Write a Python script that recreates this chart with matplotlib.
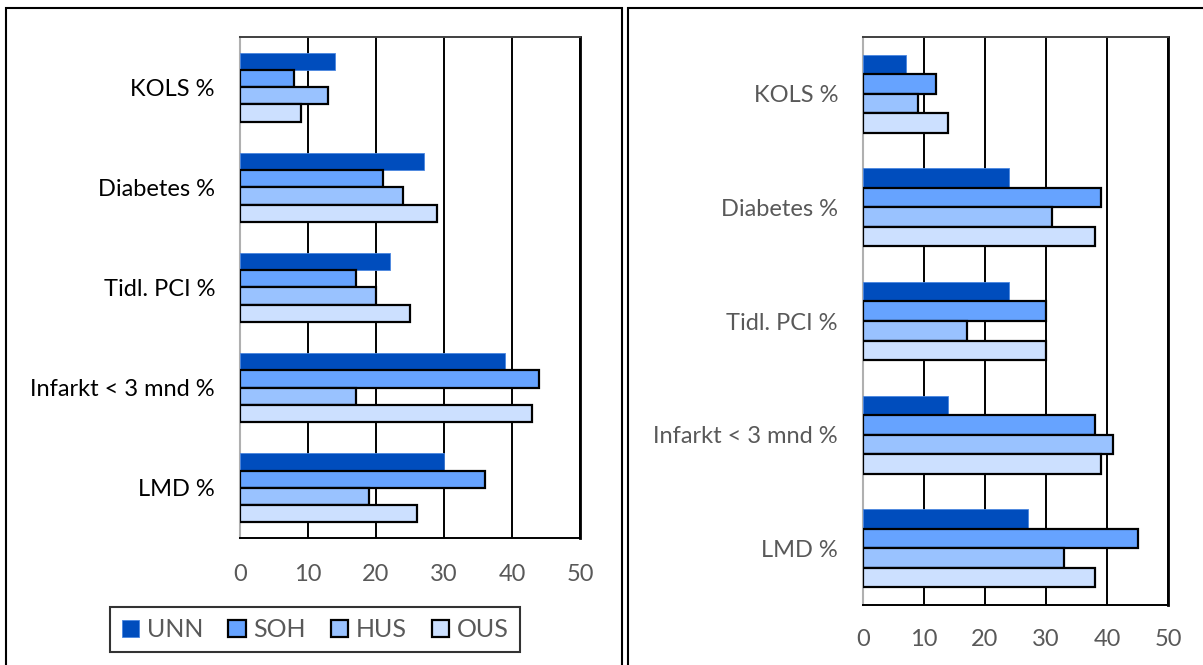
import numpy as np
import matplotlib.pyplot as plt
from matplotlib.patches import Rectangle

categories = ["KOLS %", "Diabetes %", "Tidl. PCI %", "Infarkt < 3 mnd %", "LMD %"]
hospitals = ["UNN", "SOH", "HUS", "OUS"]

left_vals = {
    "UNN": [14, 27, 22, 39, 30],
    "SOH": [8, 21, 17, 44, 36],
    "HUS": [13, 24, 20, 17, 19],
    "OUS": [9, 29, 25, 43, 26],
}
right_vals = {
    "UNN": [7, 24, 24, 14, 27],
    "SOH": [12, 39, 30, 38, 45],
    "HUS": [9, 31, 17, 41, 33],
    "OUS": [14, 38, 30, 39, 38],
}
xticks = [0, 10, 20, 30, 40, 50]

colors = ["#004DBD", "#66A3FF", "#99C2FF", "#CCE0FF"]
edges = ["#4a86e0", "black", "black", "black"]

plt.rcParams['font.family'] = ['Lato', 'DejaVu Sans']

W, H = 1203, 665
fig = plt.figure(figsize=(W / 100, H / 100), dpi=100)


def fx(px):
    return px / W


def fy(py):
    return 1 - py / H


# panel frames
for x0, x1 in [(6, 622), (628, 1210)]:
    fig.patches.append(Rectangle((fx(x0), fy(700)), fx(x1) - fx(x0), fy(8) - fy(700),
                                 transform=fig.transFigure, fill=False,
                                 edgecolor='black', linewidth=1.5))


def panel(rect, data, label_color, tick_pad):
    ax = fig.add_axes(rect)
    y = np.arange(len(categories))
    bh = 0.172
    for i, h in enumerate(hospitals):
        pos = y - 1.5 * bh + i * bh
        ax.barh(pos, data[h], height=bh, color=colors[i], edgecolor=edges[i],
                linewidth=1.6 if i else 0.6, zorder=3, label=h)
    ax.set_xlim(0, 50)
    ax.set_ylim(len(categories) - 0.5, -0.5)
    ax.set_xticks(xticks)
    ax.set_yticks(y)
    ax.set_yticklabels(categories)
    ax.tick_params(length=0)
    ax.tick_params(axis='y', pad=18, labelsize=17, colors=label_color)
    ax.tick_params(axis='x', pad=tick_pad, labelsize=17, colors='#595959')
    ax.grid(axis='x', color='black', linewidth=1.4, zorder=0)
    ax.set_axisbelow(True)
    ax.spines['left'].set_color('#b0b0b0')
    ax.spines['left'].set_linewidth(1.5)
    ax.spines['top'].set_color('#404040')
    ax.spines['top'].set_linewidth(1.4)
    ax.spines['right'].set_color('black')
    ax.spines['right'].set_linewidth(2)
    ax.spines['bottom'].set_color('black')
    ax.spines['bottom'].set_linewidth(1.4)
    return ax


axl = panel([fx(240), fy(538), fx(580) - fx(240), fy(37) - fy(538)], left_vals, 'black', 19)
axr = panel([fx(863), fy(605), fx(1168) - fx(863), fy(37) - fy(605)], right_vals, '#595959', 17)

handles, labels = axl.get_legend_handles_labels()
leg = fig.legend(handles, labels, loc='center', ncol=4,
                 bbox_to_anchor=(fx(315), fy(629.5)), fontsize=18,
                 frameon=True, fancybox=False, edgecolor='black',
                 handlelength=0.7, handleheight=0.7, handletextpad=0.3,
                 columnspacing=1.0, borderpad=0.45)
leg.get_frame().set_linewidth(1.5)
for t in leg.get_texts():
    t.set_color('#595959')

fig.savefig("out.png", dpi=100)
